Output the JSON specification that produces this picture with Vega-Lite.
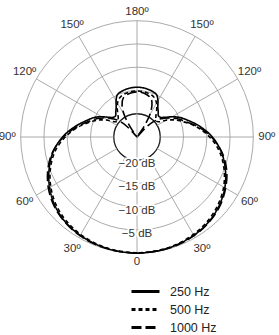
{
  "$schema": "https://vega.github.io/schema/vega-lite/v6.json",
  "width": 279,
  "height": 335,
  "autosize": "none",
  "padding": 0,
  "background": "white",
  "config": {"view": {"stroke": null}, "font": "Liberation Sans"},
  "datasets": {
    "rings": [{"db": 0}, {"db": -5}, {"db": -10}, {"db": -15}, {"db": -20}],
    "spokes": [{"angle": 0}, {"angle": 30}, {"angle": 60}, {"angle": 90}, {"angle": 120}, {"angle": 150}, {"angle": 180}, {"angle": 210}, {"angle": 240}, {"angle": 270}, {"angle": 300}, {"angle": 330}],
    "anglabels": [
      {"angle": 0, "label": "0"}, {"angle": 30, "label": "30º"}, {"angle": 60, "label": "60º"}, {"angle": 90, "label": "90º"},
      {"angle": 120, "label": "120º"}, {"angle": 150, "label": "150º"}, {"angle": 180, "label": "180º"}, {"angle": 210, "label": "150º"},
      {"angle": 240, "label": "120º"}, {"angle": 270, "label": "90º"}, {"angle": 300, "label": "60º"}, {"angle": 330, "label": "30º"}
    ],
    "dblabels": [{"db": -20, "label": "−20 dB"}, {"db": -15, "label": "−15 dB"}, {"db": -10, "label": "−10 dB"}, {"db": -5, "label": "−5 dB"}],
    "curves": [
      {"f": "250 Hz", "a": 0, "db": 0}, {"f": "250 Hz", "a": 10, "db": -0.1}, {"f": "250 Hz", "a": 20, "db": -0.3}, {"f": "250 Hz", "a": 30, "db": -0.6},
      {"f": "250 Hz", "a": 40, "db": -1.1}, {"f": "250 Hz", "a": 50, "db": -2.0}, {"f": "250 Hz", "a": 60, "db": -3.3}, {"f": "250 Hz", "a": 70, "db": -4.9},
      {"f": "250 Hz", "a": 80, "db": -6.7}, {"f": "250 Hz", "a": 90, "db": -9.0}, {"f": "250 Hz", "a": 100, "db": -11.6}, {"f": "250 Hz", "a": 110, "db": -14.0},
      {"f": "250 Hz", "a": 115, "db": -15.0}, {"f": "250 Hz", "a": 120, "db": -16.3}, {"f": "250 Hz", "a": 125, "db": -17.6}, {"f": "250 Hz", "a": 130, "db": -18.4},
      {"f": "250 Hz", "a": 135, "db": -18.5}, {"f": "250 Hz", "a": 140, "db": -17.9}, {"f": "250 Hz", "a": 145, "db": -17.2}, {"f": "250 Hz", "a": 150, "db": -16.0},
      {"f": "250 Hz", "a": 155, "db": -15.0}, {"f": "250 Hz", "a": 160, "db": -14.7}, {"f": "250 Hz", "a": 170, "db": -14.4}, {"f": "250 Hz", "a": 180, "db": -14.3},
      {"f": "250 Hz", "a": 190, "db": -14.4}, {"f": "250 Hz", "a": 200, "db": -14.7}, {"f": "250 Hz", "a": 205, "db": -15.0}, {"f": "250 Hz", "a": 210, "db": -16.0},
      {"f": "250 Hz", "a": 215, "db": -17.2}, {"f": "250 Hz", "a": 220, "db": -17.9}, {"f": "250 Hz", "a": 225, "db": -18.5}, {"f": "250 Hz", "a": 230, "db": -18.4},
      {"f": "250 Hz", "a": 235, "db": -17.6}, {"f": "250 Hz", "a": 240, "db": -16.3}, {"f": "250 Hz", "a": 245, "db": -15.0}, {"f": "250 Hz", "a": 250, "db": -13.9},
      {"f": "250 Hz", "a": 260, "db": -11.4}, {"f": "250 Hz", "a": 270, "db": -8.8}, {"f": "250 Hz", "a": 280, "db": -6.6}, {"f": "250 Hz", "a": 290, "db": -4.8},
      {"f": "250 Hz", "a": 300, "db": -3.2}, {"f": "250 Hz", "a": 310, "db": -2.0}, {"f": "250 Hz", "a": 320, "db": -1.1}, {"f": "250 Hz", "a": 330, "db": -0.6},
      {"f": "250 Hz", "a": 340, "db": -0.3}, {"f": "250 Hz", "a": 350, "db": -0.1}, {"f": "250 Hz", "a": 360, "db": 0},

      {"f": "500 Hz", "a": 0, "db": -0.1}, {"f": "500 Hz", "a": 10, "db": -0.2}, {"f": "500 Hz", "a": 20, "db": -0.4}, {"f": "500 Hz", "a": 30, "db": -0.8},
      {"f": "500 Hz", "a": 40, "db": -1.4}, {"f": "500 Hz", "a": 50, "db": -2.3}, {"f": "500 Hz", "a": 60, "db": -3.6}, {"f": "500 Hz", "a": 70, "db": -5.2},
      {"f": "500 Hz", "a": 80, "db": -7.1}, {"f": "500 Hz", "a": 90, "db": -9.6}, {"f": "500 Hz", "a": 100, "db": -12.3}, {"f": "500 Hz", "a": 110, "db": -15.0},
      {"f": "500 Hz", "a": 115, "db": -16.3}, {"f": "500 Hz", "a": 120, "db": -17.8}, {"f": "500 Hz", "a": 125, "db": -19.3}, {"f": "500 Hz", "a": 130, "db": -19.6},
      {"f": "500 Hz", "a": 135, "db": -19.3}, {"f": "500 Hz", "a": 140, "db": -18.6}, {"f": "500 Hz", "a": 145, "db": -17.6}, {"f": "500 Hz", "a": 150, "db": -16.6},
      {"f": "500 Hz", "a": 155, "db": -15.9}, {"f": "500 Hz", "a": 160, "db": -15.5}, {"f": "500 Hz", "a": 170, "db": -15.2}, {"f": "500 Hz", "a": 180, "db": -15.1},
      {"f": "500 Hz", "a": 190, "db": -15.2}, {"f": "500 Hz", "a": 200, "db": -15.5}, {"f": "500 Hz", "a": 205, "db": -15.9}, {"f": "500 Hz", "a": 210, "db": -16.6},
      {"f": "500 Hz", "a": 215, "db": -17.6}, {"f": "500 Hz", "a": 220, "db": -18.6}, {"f": "500 Hz", "a": 225, "db": -19.3}, {"f": "500 Hz", "a": 230, "db": -19.6},
      {"f": "500 Hz", "a": 235, "db": -19.3}, {"f": "500 Hz", "a": 240, "db": -17.8}, {"f": "500 Hz", "a": 245, "db": -16.3}, {"f": "500 Hz", "a": 250, "db": -15.0},
      {"f": "500 Hz", "a": 260, "db": -12.1}, {"f": "500 Hz", "a": 270, "db": -9.4}, {"f": "500 Hz", "a": 280, "db": -7.0}, {"f": "500 Hz", "a": 290, "db": -5.1},
      {"f": "500 Hz", "a": 300, "db": -3.5}, {"f": "500 Hz", "a": 310, "db": -2.3}, {"f": "500 Hz", "a": 320, "db": -1.4}, {"f": "500 Hz", "a": 330, "db": -0.8},
      {"f": "500 Hz", "a": 340, "db": -0.4}, {"f": "500 Hz", "a": 350, "db": -0.2}, {"f": "500 Hz", "a": 360, "db": -0.1},

      {"f": "1000 Hz", "a": 0, "db": 0}, {"f": "1000 Hz", "a": 10, "db": -0.1}, {"f": "1000 Hz", "a": 20, "db": -0.2}, {"f": "1000 Hz", "a": 30, "db": -0.5},
      {"f": "1000 Hz", "a": 40, "db": -1.0}, {"f": "1000 Hz", "a": 50, "db": -1.8}, {"f": "1000 Hz", "a": 60, "db": -3.0}, {"f": "1000 Hz", "a": 70, "db": -4.6},
      {"f": "1000 Hz", "a": 80, "db": -6.6}, {"f": "1000 Hz", "a": 90, "db": -9.2}, {"f": "1000 Hz", "a": 100, "db": -12.0}, {"f": "1000 Hz", "a": 110, "db": -14.6},
      {"f": "1000 Hz", "a": 115, "db": -15.6}, {"f": "1000 Hz", "a": 120, "db": -16.8}, {"f": "1000 Hz", "a": 125, "db": -18.0}, {"f": "1000 Hz", "a": 130, "db": -19.2},
      {"f": "1000 Hz", "a": 135, "db": -21.0}, {"f": "1000 Hz", "a": 138, "db": -23.5}, {"f": "1000 Hz", "a": 142, "db": -30}, {"f": "1000 Hz", "a": 146, "db": -22.5},
      {"f": "1000 Hz", "a": 150, "db": -19.5}, {"f": "1000 Hz", "a": 155, "db": -17.4}, {"f": "1000 Hz", "a": 160, "db": -16.2}, {"f": "1000 Hz", "a": 170, "db": -15.5},
      {"f": "1000 Hz", "a": 180, "db": -15.3}, {"f": "1000 Hz", "a": 190, "db": -15.5}, {"f": "1000 Hz", "a": 200, "db": -16.2}, {"f": "1000 Hz", "a": 205, "db": -17.4},
      {"f": "1000 Hz", "a": 210, "db": -19.5}, {"f": "1000 Hz", "a": 214, "db": -22.5}, {"f": "1000 Hz", "a": 218, "db": -30}, {"f": "1000 Hz", "a": 222, "db": -23.5},
      {"f": "1000 Hz", "a": 225, "db": -21.0}, {"f": "1000 Hz", "a": 230, "db": -19.2}, {"f": "1000 Hz", "a": 235, "db": -18.0}, {"f": "1000 Hz", "a": 240, "db": -16.8},
      {"f": "1000 Hz", "a": 245, "db": -15.6}, {"f": "1000 Hz", "a": 250, "db": -14.6}, {"f": "1000 Hz", "a": 260, "db": -11.8}, {"f": "1000 Hz", "a": 270, "db": -9.0},
      {"f": "1000 Hz", "a": 280, "db": -6.5}, {"f": "1000 Hz", "a": 290, "db": -4.5}, {"f": "1000 Hz", "a": 300, "db": -3.0}, {"f": "1000 Hz", "a": 310, "db": -1.8},
      {"f": "1000 Hz", "a": 320, "db": -1.0}, {"f": "1000 Hz", "a": 330, "db": -0.5}, {"f": "1000 Hz", "a": 340, "db": -0.2}, {"f": "1000 Hz", "a": 350, "db": -0.1},
      {"f": "1000 Hz", "a": 360, "db": 0}
    ]
  },
  "layer": [
    {
      "data": {"name": "rings"},
      "transform": [{"calculate": "datum.db + 25", "as": "level"}],
      "mark": {"type": "point", "shape": "circle", "filled": false, "opacity": 1},
      "encoding": {
        "x": {"datum": 0, "type": "quantitative", "scale": {"domain": [-29.45, 30.52], "nice": false, "zero": false}, "axis": null},
        "y": {"datum": 0, "type": "quantitative", "scale": {"domain": [-42.56, 29.45], "nice": false, "zero": false}, "axis": null},
        "size": {"field": "level", "type": "quantitative", "scale": {"type": "pow", "exponent": 2, "domain": [0, 25], "range": [0, 54103]}, "legend": null},
        "color": {"condition": {"test": "datum.db == -20", "value": "#1a1a1a"}, "value": "#a0a0a0"},
        "strokeWidth": {"condition": {"test": "datum.db == -20", "value": 1.3}, "value": 0.9}
      }
    },
    {
      "data": {"name": "spokes"},
      "transform": [
        {"calculate": "datum.angle % 180 == 0 ? 0 : 5", "as": "r0"},
        {"calculate": "datum.angle * PI / 180", "as": "rad"},
        {"calculate": "-datum.r0 * sin(datum.rad)", "as": "x1"},
        {"calculate": "-datum.r0 * cos(datum.rad)", "as": "y1"},
        {"calculate": "-25 * sin(datum.rad)", "as": "x2"},
        {"calculate": "-25 * cos(datum.rad)", "as": "y2"}
      ],
      "mark": {"type": "rule", "color": "#a0a0a0", "strokeWidth": 0.9},
      "encoding": {
        "x": {"field": "x1", "type": "quantitative", "scale": {"domain": [-29.45, 30.52], "nice": false, "zero": false}, "axis": null},
        "y": {"field": "y1", "type": "quantitative", "scale": {"domain": [-42.56, 29.45], "nice": false, "zero": false}, "axis": null},
        "x2": {"field": "x2"},
        "y2": {"field": "y2"}
      }
    },
    {
      "data": {"name": "dblabels"},
      "transform": [{"calculate": "-(datum.db + 25.85)", "as": "ly"}],
      "mark": {"type": "text", "fontSize": 11.5, "fill": "white", "stroke": "white", "strokeWidth": 4, "baseline": "middle", "align": "center"},
      "encoding": {
        "x": {"datum": 0, "type": "quantitative", "scale": {"domain": [-29.45, 30.52], "nice": false, "zero": false}, "axis": null},
        "y": {"field": "ly", "type": "quantitative", "scale": {"domain": [-42.56, 29.45], "nice": false, "zero": false}, "axis": null},
        "text": {"field": "label"}
      }
    },
    {
      "data": {"name": "dblabels"},
      "transform": [{"calculate": "-(datum.db + 25.85)", "as": "ly"}],
      "mark": {"type": "text", "fontSize": 11.5, "color": "#333333", "baseline": "middle", "align": "center"},
      "encoding": {
        "x": {"datum": 0, "type": "quantitative", "scale": {"domain": [-29.45, 30.52], "nice": false, "zero": false}, "axis": null},
        "y": {"field": "ly", "type": "quantitative", "scale": {"domain": [-42.56, 29.45], "nice": false, "zero": false}, "axis": null},
        "text": {"field": "label"}
      }
    },
    {
      "data": {"name": "anglabels"},
      "transform": [
        {"calculate": "datum.angle % 180 == 0 ? 26.8 : 27.9", "as": "lr"},
        {"calculate": "-datum.lr * sin(datum.angle * PI / 180)", "as": "lx"},
        {"calculate": "-datum.lr * cos(datum.angle * PI / 180)", "as": "ly"}
      ],
      "mark": {"type": "text", "fontSize": 11.5, "color": "#333333", "baseline": "middle", "align": "center"},
      "encoding": {
        "x": {"field": "lx", "type": "quantitative", "scale": {"domain": [-29.45, 30.52], "nice": false, "zero": false}, "axis": null},
        "y": {"field": "ly", "type": "quantitative", "scale": {"domain": [-42.56, 29.45], "nice": false, "zero": false}, "axis": null},
        "text": {"field": "label"}
      }
    },
    {
      "data": {"name": "curves"},
      "transform": [
        {"calculate": "max(datum.db + 25, 0)", "as": "L"},
        {"calculate": "-datum.L * sin(datum.a * PI / 180)", "as": "cx"},
        {"calculate": "-datum.L * cos(datum.a * PI / 180)", "as": "cy"}
      ],
      "mark": {"type": "line", "color": "black", "strokeWidth": 1.6, "interpolate": "catmull-rom"},
      "encoding": {
        "x": {"field": "cx", "type": "quantitative", "scale": {"domain": [-29.45, 30.52], "nice": false, "zero": false}, "axis": null},
        "y": {"field": "cy", "type": "quantitative", "scale": {"domain": [-42.56, 29.45], "nice": false, "zero": false}, "axis": null},
        "order": {"field": "a", "type": "quantitative"},
        "strokeDash": {
          "field": "f", "type": "nominal",
          "scale": {"domain": ["250 Hz", "500 Hz", "1000 Hz"], "range": [[1, 0], [4, 3], [10, 4]]},
          "legend": {
            "title": null, "orient": "none", "legendX": 130, "legendY": 284,
            "symbolType": "stroke", "symbolSize": 784, "symbolStrokeWidth": 2.8, "symbolStrokeColor": "black",
            "clipHeight": 15, "rowPadding": 3,
            "labelFontSize": 12.5, "labelColor": "#222222", "labelOffset": 9, "labelFont": "Liberation Sans"
          }
        }
      }
    }
  ]
}
